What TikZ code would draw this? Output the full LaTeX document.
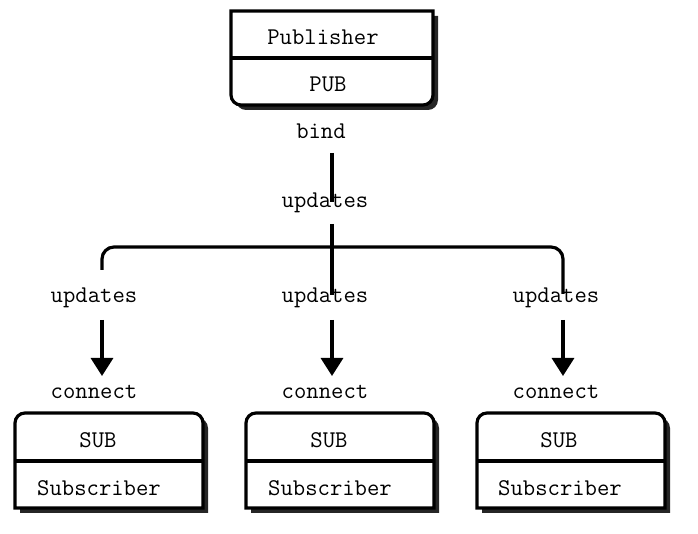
\documentclass[tikz,border=0pt]{standalone}
\usepackage{fontspec}
\usetikzlibrary{arrows.meta,positioning}

\newcommand{\SubBox}[1]{%
  \begin{scope}[shift={(#1,0)}]
    \fill[Shadow] (5,513) [rounded corners=5pt] -- (5,418) -- (193,418) [sharp corners] -- (193,513) -- cycle;
    \draw[Outline] (0,508) [rounded corners=5pt] -- (0,413) -- (188,413) [sharp corners] -- (188,508) -- cycle;
    \draw[Wire] (0,461) -- (188,461);
  \end{scope}}

\begin{document}
\begin{tikzpicture}
  [
    x=0.5pt, y=-0.5pt,
    Txt/.style={font=\ttfamily\fontsize{12}{14}\selectfont, inner sep=0pt},
    Wire/.style={draw, line width=1.6pt},
    Arrow/.style={Wire, -{Triangle[width=11pt, length=9pt]}},
    Outline/.style={draw, fill=white, line width=1.6pt},
    Shadow/.style={fill=black!85}
  ]
  \useasboundingbox (0,0) rectangle (698,534);

  % Boxes
  \fill[Shadow] (236,16) [rounded corners=5pt] -- (236,110) -- (438,110) [sharp corners] -- (438,16) -- cycle;
  \draw[Outline] (231,11) [rounded corners=5pt] -- (231,105) -- (433,105) [sharp corners] -- (433,11) -- cycle;
  \draw[Wire] (231,58) -- (433,58);

  \SubBox{15}
  \SubBox{246}
  \SubBox{477}

  % Nodes
  \node[Txt] (pubname) at (323,37) {Publisher};
  \node[Txt] (pubtype) at (328,84) {PUB};
  \node[Txt] (bind) at (321,131) {bind};
  \node[Txt] (upd) at (325,203) {updates};

  \node[Txt] (updL) at (94,298) {updates};
  \node[Txt] (updM) at (325,298) {updates};
  \node[Txt] (updR) at (556,298) {updates};

  \node[Txt] (conL) at (94,392) {connect};
  \node[Txt] (conM) at (325,392) {connect};
  \node[Txt] (conR) at (556,392) {connect};

  \node[Txt] (subL) at (98,440) {SUB};
  \node[Txt] (subM) at (329,440) {SUB};
  \node[Txt] (subR) at (559,440) {SUB};

  \node[Txt] (nameL) at (99,488) {Subscriber};
  \node[Txt] (nameM) at (330,488) {Subscriber};
  \node[Txt] (nameR) at (560,488) {Subscriber};

  % Points
  \coordinate (b0) at (332,153);
  \coordinate (b1) at (332,202);
  \coordinate (b2) at (332,224);
  \coordinate (hub) at (332,247);
  \coordinate (dL) at (102,270);
  \coordinate (dM) at (332,295);
  \coordinate (dR) at (563,294);
  \coordinate (aL) at (102,320);
  \coordinate (aM) at (332,320);
  \coordinate (aR) at (563,320);
  \coordinate (tL) at (102,376);
  \coordinate (tM) at (332,376);
  \coordinate (tR) at (563,376);

  % Lines
  \path [Wire] (b0) -- (b1);
  \path [Wire] (b2) -- (dM);
  \path [Wire, rounded corners=6pt] (dL) |- (hub) -| (dR);
  \path [Arrow] (aL) -- (tL);
  \path [Arrow] (aM) -- (tM);
  \path [Arrow] (aR) -- (tR);

\end{tikzpicture}
\end{document}
